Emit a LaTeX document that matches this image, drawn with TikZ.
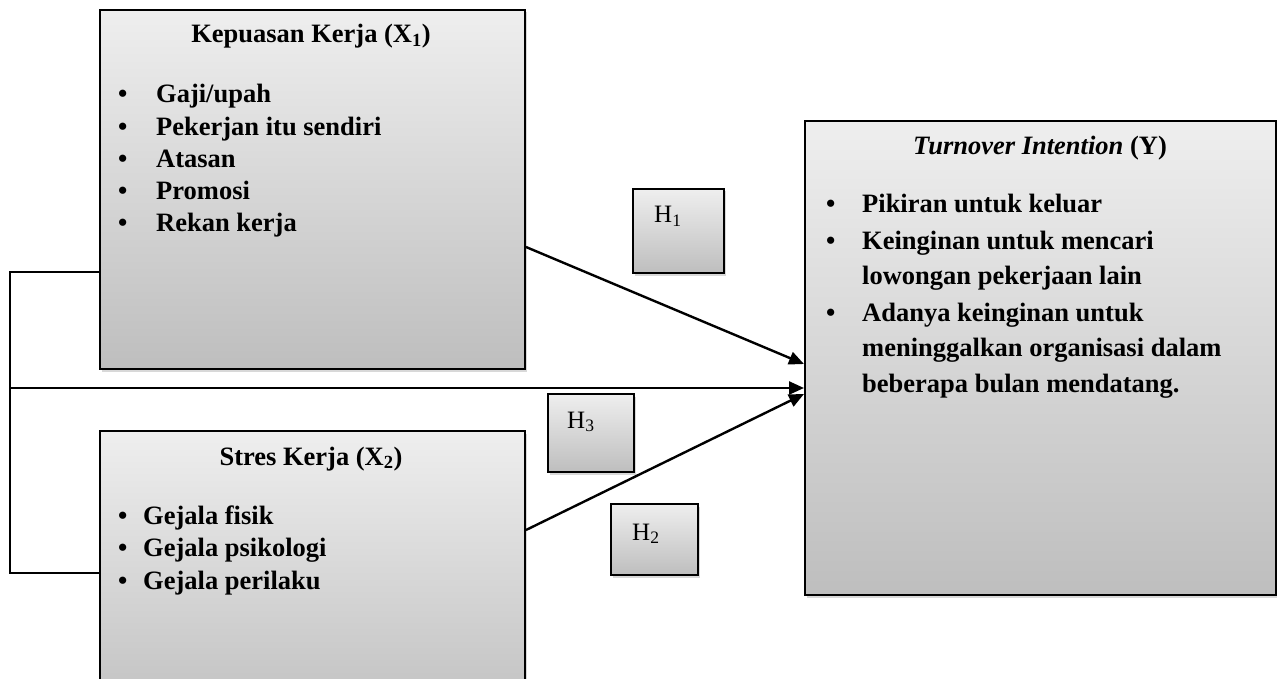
\documentclass[tikz,border=0pt]{standalone}
\usepackage{fontspec}
\setmainfont{Liberation Serif}
\usetikzlibrary{arrows.meta,shadows}
\newcommand\bl[1]{\makebox[#1pt][l]{\textbullet}}
\begin{document}
\begin{tikzpicture}[x=1pt,y=-1pt,
  box/.style={draw=black, line width=2pt, top color=gray!13, bottom color=gray!51,
    anchor=north west, inner sep=0pt,
    drop shadow={shadow xshift=1.5pt, shadow yshift=-2.5pt, opacity=0.3}},
  txt/.style={inner sep=0pt, font=\fontsize{26.5}{32.2}\selectfont\bfseries},
  htxt/.style={inner sep=0pt, anchor=base west, font=\fontsize{25}{30}\selectfont},
  conn/.style={line width=2.4pt},
  arr/.style={line width=2.4pt, -{Triangle[length=15pt,width=13pt]}}
]
\clip (0,0) rectangle (1277,679);
\fill[white] (0,0) rectangle (1277,679);

% main boxes
\node[box, minimum width=425pt, minimum height=359pt] (x1) at (99,9) {};
\node[box, minimum width=425pt, minimum height=300pt] (x2) at (99,430) {};
\node[box, minimum width=471pt, minimum height=474pt] (y) at (804,120) {};

% hypothesis boxes
\node[box, minimum width=91pt, minimum height=84pt] (h1) at (632,188) {};
\node[box, minimum width=86pt, minimum height=78pt] (h3) at (547,393) {};
\node[box, minimum width=87pt, minimum height=71pt] (h2) at (610,503) {};
\node[htxt] (h1t) at (654,223) {H\textsubscript{1}};
\node[htxt] (h3t) at (567,428) {H\textsubscript{3}};
\node[htxt] (h2t) at (632,540) {H\textsubscript{2}};

% X1 text
\node[txt, anchor=base] (x1title) at (311,43) {Kepuasan Kerja (X\textsubscript{1})};
\node[txt, anchor=base west] (x1list) at (118,103) {\begin{tabular}[t]{@{}l@{}}
\bl{38}Gaji/upah\\
\bl{38}Pekerjan itu sendiri\\
\bl{38}Atasan\\
\bl{38}Promosi\\
\bl{38}Rekan kerja
\end{tabular}};

% X2 text
\node[txt, anchor=base] (x2title) at (311,465) {Stres Kerja (X\textsubscript{2})};
\node[txt, anchor=base west, font=\fontsize{26.5}{32.7}\selectfont\bfseries] (x2list) at (118,524) {\begin{tabular}[t]{@{}l@{}}
\bl{25}Gejala fisik\\
\bl{25}Gejala psikologi\\
\bl{25}Gejala perilaku
\end{tabular}};

% Y text
\node[txt, anchor=base] (ytitle) at (1040,155) {\textit{Turnover Intention} (Y)};
\node[txt, anchor=base west, font=\fontsize{26.5}{36}\selectfont\bfseries] (ylist) at (826,213) {\begin{tabular}[t]{@{}l@{}}
\bl{36}Pikiran untuk keluar\\
\bl{36}Keinginan untuk mencari\\
\hspace*{36pt}lowongan pekerjaan lain\\
\bl{36}Adanya keinginan untuk\\
\hspace*{36pt}meninggalkan organisasi dalam\\
\hspace*{36pt}beberapa bulan mendatang.
\end{tabular}};

% connectors
\coordinate (L1) at (10,272);
\coordinate (L2) at (10,573);
\coordinate (L3) at (10,388);
\coordinate (a1s) at (0,247);
\coordinate (a1e) at (0,364);
\coordinate (a2s) at (0,530);
\coordinate (a2e) at (0,394);
\draw[conn] (x1.west |- L1) -- (L1) -- (L2) -- (x2.west |- L2);
\draw[arr] (L3) -- (y.west |- L3);
\draw[arr] (x1.east |- a1s) -- (y.west |- a1e);
\draw[arr] (x2.east |- a2s) -- (y.west |- a2e);
\end{tikzpicture}
\end{document}
